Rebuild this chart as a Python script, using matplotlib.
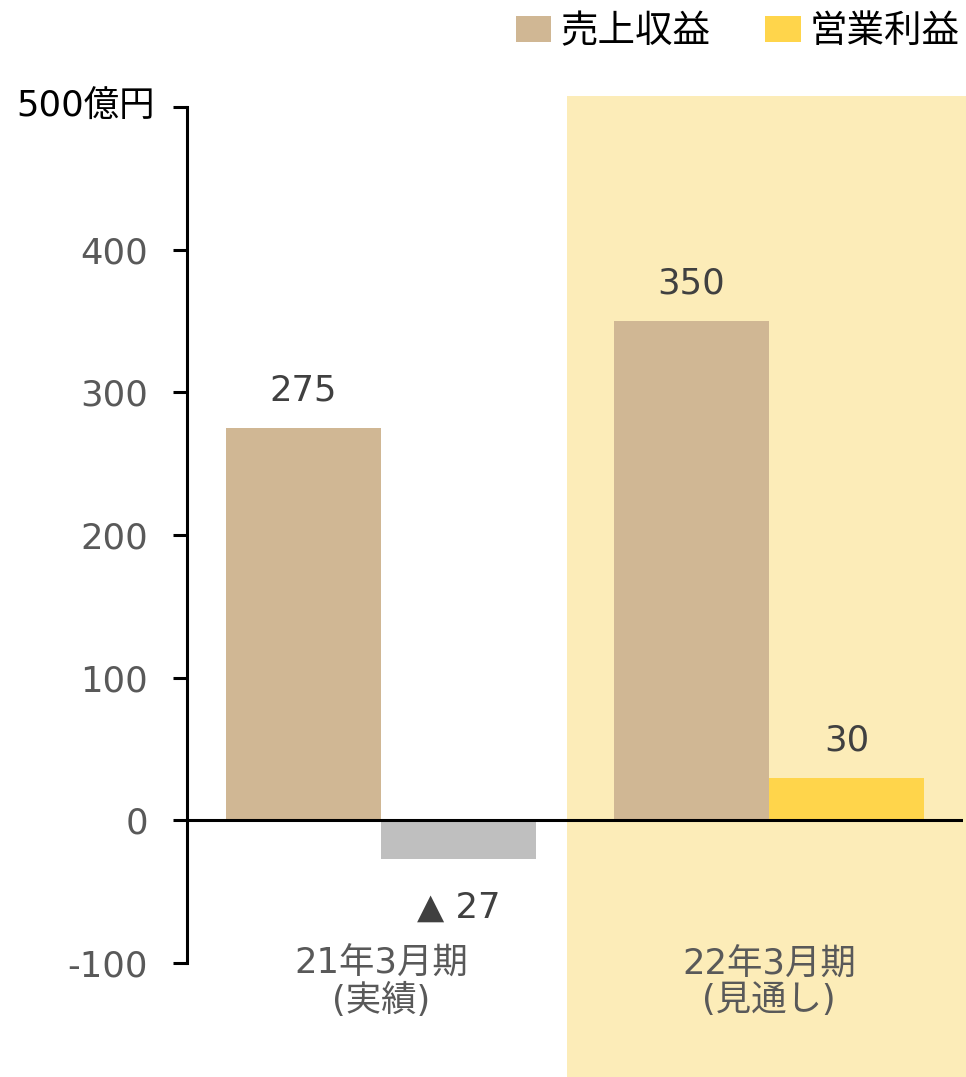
"""Revenue and operating profit, FY21 actual vs FY22 forecast."""

import matplotlib

matplotlib.use("Agg")
import matplotlib.pyplot as plt
import matplotlib.transforms as mtransforms
from matplotlib.patches import Patch, Rectangle

# Verdana-like latin glyphs, CJK falls through to Noto
plt.rcParams["font.family"] = ["DejaVu Sans", "Noto Sans CJK JP"]

# data (億円)
periods = ["21年3月期\n(実績)", "22年3月期\n(見通し)"]
revenue = [275, 350]
operating_profit = [-27, 30]
y_ticks = [-100, 0, 100, 200, 300, 400, 500]
top_tick_label = "500億円"
legend_labels = ["売上収益", "営業利益"]

REVENUE_COLOR = "#D0B794"
PROFIT_COLOR = "#FFD54B"
LOSS_COLOR = "#BFBFBF"
FORECAST_BG = "#FCECB8"
TICK_GRAY = "#595959"
LABEL_GRAY = "#404040"
FS = 25.5
BAR_W = 0.4

fig = plt.figure(figsize=(9.66, 10.77), dpi=100)
ax = fig.add_axes([187 / 966, 1 - 963 / 1077, 776 / 966, (963 - 107) / 1077])
ax.patch.set_visible(False)

xs = list(range(len(periods)))

# forecast period shading, runs past the axes top and down to the figure bottom
shade_tf = mtransforms.blended_transform_factory(ax.transData, fig.transFigure)
ax.add_patch(Rectangle((0.479, 0.0), 2.0, 1 - 96 / 1077, transform=shade_tf,
                       facecolor=FORECAST_BG, edgecolor="none", clip_on=False, zorder=0))

rev_x = [x - BAR_W / 2 for x in xs]
prof_x = [x + BAR_W / 2 for x in xs]
prof_colors = [PROFIT_COLOR if v >= 0 else LOSS_COLOR for v in operating_profit]
ax.bar(rev_x, revenue, width=BAR_W, color=REVENUE_COLOR, zorder=2)
ax.bar(prof_x, operating_profit, width=BAR_W, color=prof_colors, zorder=2)

ax.axhline(0, color="black", lw=2.2, zorder=3)

# value labels, negatives shown with a triangle
for x, v in zip(rev_x + prof_x, revenue + operating_profit):
    text = f"{v}" if v >= 0 else f"▲ {abs(v)}"
    off = 27 if v >= 0 else -35
    ax.annotate(text, (x, v), xytext=(0, off), textcoords="offset points",
                ha="center", va="center", fontsize=FS, color=LABEL_GRAY, zorder=4)

# period labels sit under the bars near the bottom of the scale
for x, name in zip(xs, periods):
    ax.annotate(name, (x, -100), xytext=(0, -14), textcoords="offset points",
                ha="center", va="center", fontsize=FS, color=TICK_GRAY,
                linespacing=1.05)

ax.set_xlim(-0.5, 1.5)
ax.set_ylim(-100, 500)
ax.set_xticks([])
ax.set_yticks(y_ticks)
ax.set_yticklabels([str(t) if t != 500 else "" for t in y_ticks])
ax.tick_params(axis="y", direction="out", length=10, width=2.2, color="black",
               pad=18, labelsize=FS, labelcolor=TICK_GRAY)
for side in ("top", "right", "bottom"):
    ax.spines[side].set_visible(False)
ax.spines["left"].set_linewidth(2.2)
ax.spines["left"].set_color("black")

ax.annotate(top_tick_label, (0, 500), xycoords=("axes fraction", "data"),
            xytext=(-23, 0), textcoords="offset points",
            ha="right", va="center", fontsize=FS, color="black")

handles = [Patch(facecolor=REVENUE_COLOR), Patch(facecolor=PROFIT_COLOR)]
fig.legend(handles, legend_labels, loc="center right",
           bbox_to_anchor=(960 / 966, 1 - 32 / 1077), ncol=2, frameon=False,
           fontsize=27, handlelength=0.95, handleheight=0.7, handletextpad=0.25,
           columnspacing=1.45, borderpad=0, borderaxespad=0)

fig.savefig("out.png", dpi=100)
